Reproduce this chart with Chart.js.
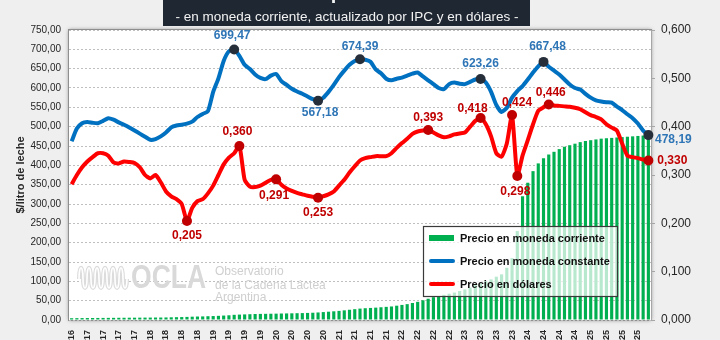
<!DOCTYPE html>
<html>
<head>
<meta charset="utf-8">
<script src="https://cdn.jsdelivr.net/npm/chart.js@4.4.1/dist/chart.umd.min.js"></script>
<style>
html, body { margin:0; padding:0; width:720px; height:340px; overflow:hidden; background:#efefef; }
#wrap { position:absolute; left:0; top:-24px; width:720px; height:390px; }
</style>
</head>
<body>
<div id="wrap"><canvas id="grafico" width="720" height="390"></canvas></div>
<script>
const titulo = ['Evolución del precio de la leche', '- en moneda corriente, actualizado por IPC y en dólares -'];

const meses = [
  'nov-16','dic-16',
  'ene-17','feb-17','mar-17','abr-17','may-17','jun-17','jul-17','ago-17','sep-17','oct-17','nov-17','dic-17',
  'ene-18','feb-18','mar-18','abr-18','may-18','jun-18','jul-18','ago-18','sep-18','oct-18','nov-18','dic-18',
  'ene-19','feb-19','mar-19','abr-19','may-19','jun-19','jul-19','ago-19','sep-19','oct-19','nov-19','dic-19',
  'ene-20','feb-20','mar-20','abr-20','may-20','jun-20','jul-20','ago-20','sep-20','oct-20','nov-20','dic-20',
  'ene-21','feb-21','mar-21','abr-21','may-21','jun-21','jul-21','ago-21','sep-21','oct-21','nov-21','dic-21',
  'ene-22','feb-22','mar-22','abr-22','may-22','jun-22','jul-22','ago-22','sep-22','oct-22','nov-22','dic-22',
  'ene-23','feb-23','mar-23','abr-23','may-23','jun-23','jul-23','ago-23','sep-23','oct-23','nov-23','dic-23',
  'ene-24','feb-24','mar-24','abr-24','may-24','jun-24','jul-24','ago-24','sep-24','oct-24','nov-24','dic-24',
  'ene-25','feb-25','mar-25','abr-25','may-25','jun-25','jul-25','ago-25','sep-25','oct-25','nov-25','dic-25',
  'ene-26'
];

// $/litro, moneda corriente
const precioCorriente = [
  4.6, 4.8,
  5.0, 5.1, 5.2, 5.3, 5.4, 5.5, 5.6, 5.7, 5.8, 5.9, 6.0, 6.1,
  6.2, 6.3, 6.4, 6.4, 6.6, 7.0, 7.3, 7.6, 8.0, 8.6, 9.0, 9.3,
  9.8, 10.2, 10.8, 11.5, 12.2, 13.4, 14.0, 14.5, 15.0, 15.5, 15.8, 16.0,
  16.2, 16.4, 16.8, 17.0, 17.3, 17.6, 17.9, 18.3, 18.8, 19.5, 20.5, 21.5,
  22.5, 23.6, 25.0, 26.5, 28.0, 29.5, 30.5, 31.2, 32.0, 33.0, 34.0, 35.0,
  37, 39, 41, 44, 47, 51, 55, 59, 62, 65, 68, 71,
  75, 79, 84, 90, 95, 100, 105, 112, 118, 135, 160, 230,
  320, 355, 385, 405, 418, 428, 435, 442, 448, 452, 456, 460,
  463, 465, 467, 469, 470, 471, 472, 473, 474, 475, 476, 477,
  478.19
];

// $/litro, moneda constante (IPC)
const precioConstante = [
  462, 495,
  509, 512, 510, 509, 515, 522, 518, 511, 505, 498, 490, 482,
  474, 466, 468, 475, 485, 498, 503, 505, 508, 513, 525, 533,
  540, 590, 625, 670, 695, 699.47, 683, 660, 649, 635, 626, 623,
  632, 636, 618, 608, 598, 591, 585, 578, 571, 567.18, 575, 590,
  608, 628, 645, 660, 670, 674.39, 673, 668, 648, 638, 624, 620,
  624, 627, 632, 637, 640, 630, 620, 610, 600, 597, 610, 614,
  611, 610, 616, 622, 623.26, 614, 590, 556, 538, 549, 575, 592,
  605, 622, 640, 656, 667.48, 655, 645, 635, 622, 609, 600, 596,
  585, 575, 568, 565, 563, 562, 552, 543, 532, 522, 508, 490,
  478.19
];

// U$S/litro
const precioDolares = [
  0.281, 0.300,
  0.316, 0.328, 0.337, 0.345, 0.345, 0.340, 0.326, 0.324, 0.328, 0.327, 0.325, 0.316,
  0.300, 0.293, 0.300, 0.285, 0.266, 0.256, 0.250, 0.240, 0.205, 0.232, 0.246, 0.250,
  0.262, 0.278, 0.300, 0.322, 0.336, 0.345, 0.360, 0.290, 0.276, 0.275, 0.278, 0.284,
  0.290, 0.291, 0.280, 0.272, 0.267, 0.263, 0.260, 0.257, 0.255, 0.253, 0.256, 0.260,
  0.266, 0.278, 0.290, 0.305, 0.318, 0.330, 0.335, 0.337, 0.339, 0.339, 0.339, 0.345,
  0.356, 0.366, 0.375, 0.385, 0.390, 0.392, 0.393, 0.388, 0.382, 0.378, 0.380, 0.384,
  0.386, 0.388, 0.400, 0.412, 0.418, 0.405, 0.380, 0.345, 0.338, 0.365, 0.424, 0.298,
  0.340, 0.372, 0.405, 0.433, 0.440, 0.446, 0.444, 0.443, 0.442, 0.441, 0.439, 0.436,
  0.430, 0.424, 0.420, 0.415, 0.405, 0.398, 0.392, 0.365, 0.340, 0.337, 0.335, 0.332,
  0.330
];

// puntos marcados con etiqueta
const marcasConst = [31, 47, 55, 78, 90, 110];
const marcasDol = [22, 32, 39, 47, 68, 78, 84, 85, 91, 110];
// desplazamiento de cada etiqueta respecto del punto
const posConst = [[-2,-14],[2,12],[0,-13],[0,-15],[4,-15],[25,5]];
const posDol = [[0,15],[-2,-14],[-2,16],[0,15],[0,-12],[-8,-9],[5,-12],[-2,16],[2,-12],[24,0]];

const fuente = '"Liberation Sans"';
Chart.defaults.font.family = fuente;

function fmt(v, d) {
    return Number(v).toFixed(d).replace('.', ',');
}

const fondo = {
    id: 'fondo',
    beforeDraw(chart) {
        const ctx = chart.ctx;
        const a = chart.chartArea;
        ctx.save();
        ctx.fillStyle = '#efefef';
        ctx.fillRect(0, 0, chart.width, chart.height);
        // caja del titulo
        ctx.fillStyle = '#1f2733';
        ctx.fillRect(163, 0, 367, 50);
        ctx.fillStyle = '#f2f2f2';
        ctx.textAlign = 'center';
        ctx.font = 'bold 20px ' + fuente;
        ctx.fillText(titulo[0], 347, 23);
        ctx.font = '13.5px ' + fuente;
        ctx.fillText(titulo[1], 347, 45);
        // area del grafico
        ctx.shadowColor = 'rgba(0,0,0,0.5)';
        ctx.shadowBlur = 4;
        ctx.fillStyle = '#ffffff';
        ctx.fillRect(a.left, a.top, a.right - a.left, a.bottom - a.top);
        ctx.shadowColor = 'transparent';
        ctx.strokeStyle = '#8f8f8f';
        ctx.lineWidth = 1;
        ctx.strokeRect(a.left - 0.5, a.top - 0.5, a.right - a.left + 1, a.bottom - a.top + 1);
        ctx.restore();
    }
};

const marca = {
    id: 'marca',
    beforeDatasetsDraw(chart) {
        const ctx = chart.ctx;
        ctx.save();
        // onda del logo
        const bx = 79, by = 303;
        ctx.beginPath();
        ctx.moveTo(bx, by);
        for (let k = 0; k < 6; k++) {
            const x = bx + k * 8;
            ctx.bezierCurveTo(x, by - 15, x + 4, by - 15, x + 4, by);
            ctx.bezierCurveTo(x + 4, by + 12, x + 8, by + 12, x + 8, by);
        }
        ctx.lineWidth = 4;
        ctx.strokeStyle = '#dcdcdc';
        ctx.stroke();
        ctx.lineWidth = 1.6;
        ctx.strokeStyle = '#ffffff';
        ctx.stroke();
        // OCLA
        ctx.fillStyle = '#d9d9d9';
        ctx.translate(131, 312);
        ctx.scale(0.78, 1);
        ctx.font = 'bold 34px ' + fuente;
        ctx.fillText('OCLA', 0, 0);
        ctx.setTransform(1, 0, 0, 1, 0, 0);
        ctx.fillStyle = '#cfcfcf';
        ctx.font = '12px ' + fuente;
        ctx.fillText('Observatorio', 215, 299);
        ctx.fillText('de la Cadena Láctea', 215, 313);
        ctx.fillText('Argentina', 215, 325);
        ctx.restore();
    }
};

const leyenda = {
    id: 'leyenda',
    afterDatasetsDraw(chart) {
        const ctx = chart.ctx;
        const x0 = 423, y0 = 250, w = 194, h = 70;
        const ds = chart.data.datasets;
        ctx.save();
        ctx.fillStyle = 'rgba(255,255,255,0.72)';
        ctx.fillRect(x0, y0, w, h);
        ctx.strokeStyle = '#3a3a3a';
        ctx.lineWidth = 1.2;
        ctx.strokeRect(x0 + 0.5, y0 + 0.5, w, h);
        ctx.font = 'bold 11px ' + fuente;
        ctx.textBaseline = 'middle';
        ctx.textAlign = 'left';
        const filas = [12, 35, 58];
        ds.forEach((d, k) => {
            const y = y0 + filas[k];
            if (d.type === 'bar') {
                ctx.fillStyle = d.backgroundColor;
                ctx.fillRect(x0 + 6, y - 3, 25, 6);
            } else {
                ctx.strokeStyle = d.borderColor;
                ctx.lineWidth = 4;
                ctx.lineCap = 'round';
                ctx.beginPath();
                ctx.moveTo(x0 + 8, y);
                ctx.lineTo(x0 + 30, y);
                ctx.stroke();
            }
            ctx.fillStyle = '#111111';
            ctx.fillText(d.label, x0 + 37, y + 0.5);
        });
        ctx.restore();
    }
};

const etiquetas = {
    id: 'etiquetas',
    afterDatasetsDraw(chart) {
        const ctx = chart.ctx;
        ctx.save();
        ctx.font = 'bold 12px ' + fuente;
        ctx.textAlign = 'center';
        ctx.textBaseline = 'middle';
        const dib = (idx, marcas, pos, color, dec) => {
            const meta = chart.getDatasetMeta(idx);
            const vals = chart.data.datasets[idx].data;
            ctx.fillStyle = color;
            marcas.forEach((i, k) => {
                const p = meta.data[i];
                ctx.fillText(fmt(vals[i], dec), p.x + pos[k][0], p.y + pos[k][1]);
            });
        };
        dib(1, marcasConst, posConst, '#2e75b6', 2);
        dib(2, marcasDol, posDol, '#c00000', 3);
        ctx.restore();
    }
};

new Chart(document.getElementById('grafico'), {
    type: 'bar',
    data: {
        labels: meses,
        datasets: [{
            type: 'bar',
            label: 'Precio en moneda corriente',
            data: precioCorriente,
            backgroundColor: '#00b050',
            yAxisID: 'y',
            order: 3,
            barPercentage: 0.6,
            categoryPercentage: 1
        }, {
            type: 'line',
            label: 'Precio en moneda constante',
            data: precioConstante,
            borderColor: '#0070c0',
            borderWidth: 4,
            tension: 0.2,
            yAxisID: 'y',
            order: 1,
            pointRadius: meses.map((m, i) => marcasConst.includes(i) ? 5 : 0),
            pointBackgroundColor: '#262e3a',
            pointBorderWidth: 0
        }, {
            type: 'line',
            label: 'Precio en dólares',
            data: precioDolares,
            borderColor: '#ff0000',
            borderWidth: 4,
            tension: 0.2,
            yAxisID: 'y1',
            order: 2,
            pointRadius: meses.map((m, i) => marcasDol.includes(i) ? 5 : 0),
            pointBackgroundColor: '#c00000',
            pointBorderWidth: 0
        }]
    },
    options: {
        responsive: false,
        animation: false,
        layout: { padding: { top: 54, left: 0, right: 0, bottom: 0 } },
        plugins: {
            legend: { display: false },
            tooltip: { enabled: false }
        },
        scales: {
            x: {
                grid: { display: false },
                border: { display: false },
                ticks: {
                    autoSkip: false,
                    minRotation: 90,
                    maxRotation: 90,
                    padding: 2,
                    color: '#262626',
                    font: { size: 9, weight: 'bold' },
                    callback: (v, i) => i % 3 === 0 ? meses[i] : ''
                },
                afterFit: (s) => { s.height = 46; }
            },
            y: {
                min: 0,
                max: 750,
                ticks: {
                    stepSize: 50,
                    padding: 8,
                    color: '#262626',
                    font: { size: 10 },
                    callback: (v) => fmt(v, 2)
                },
                grid: { color: '#bfbfbf', drawTicks: false },
                border: { display: false, dash: [2, 2] },
                title: {
                    display: true,
                    text: '$/litro de leche',
                    color: '#262626',
                    font: { size: 11, weight: 'bold' },
                    padding: { top: 14, bottom: 0 }
                },
                afterFit: (s) => { s.width = 69; }
            },
            y1: {
                position: 'right',
                min: 0,
                max: 0.6,
                ticks: {
                    stepSize: 0.1,
                    padding: 6,
                    color: '#262626',
                    font: { size: 12 },
                    callback: (v) => fmt(v, 3)
                },
                grid: { drawOnChartArea: false, drawTicks: true, tickLength: 4, color: '#a6a6a6' },
                border: { display: true, color: '#a6a6a6' },
                afterFit: (s) => { s.width = 69; }
            }
        }
    },
    plugins: [fondo, marca, leyenda, etiquetas]
});
</script>
</body>
</html>
